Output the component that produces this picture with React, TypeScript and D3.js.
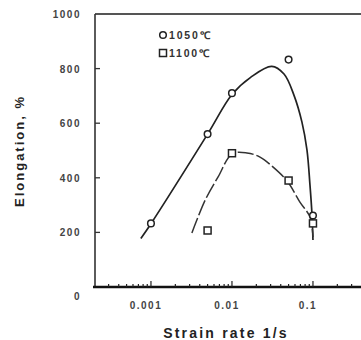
import React from 'react';
import * as d3 from 'd3';

const xTicks = [0.001, 0.01, 0.1];
const xTickLabels = ['0.001', '0.01', '0.1'];
const yTicks = [0, 200, 400, 600, 800, 1000];
const legendLabels = ['1050℃', '1100℃'];

const rate1050 = [0.001, 0.005, 0.01, 0.05, 0.1];
const elong1050 = [233, 560, 710, 833, 262];
const rate1100 = [0.005, 0.01, 0.05, 0.1];
const elong1100 = [207, 490, 390, 233];

const curve1050Rate = [0.00075, 0.001, 0.005, 0.01, 0.017, 0.031, 0.0439, 0.0582, 0.0731, 0.0843, 0.0918, 0.0973, 0.1];
const curve1050Elong = [178, 232, 560, 705, 768, 808, 780, 703, 604, 502, 374, 264, 172];
const curve1100Rate = [0.0032, 0.0047, 0.0068, 0.01, 0.0153, 0.0222, 0.032, 0.048, 0.069, 0.092, 0.1];
const curve1100Elong = [198, 320, 405, 487, 491, 476, 440, 388, 311, 256, 183];

const W = 361;
const H = 340;
const left = 95;
const top = 14;
const bottom = 287;

export default function App() {
  const x = d3.scaleLog().domain([Math.pow(10, -3.691), Math.pow(10, -0.407)]).range([left, W]);
  const y = d3.scaleLinear().domain([0, 1000]).range([bottom, top]);

  const line = d3
    .line<[number, number]>()
    .x((d) => x(d[0]))
    .y((d) => y(d[1]))
    .curve(d3.curveCatmullRom.alpha(0.5));

  const c1050 = curve1050Rate.map((r, i) => [r, curve1050Elong[i]] as [number, number]);
  const c1100 = curve1100Rate.map((r, i) => [r, curve1100Elong[i]] as [number, number]);

  const minor: number[] = [];
  for (let e = -4; e <= -1; e++) {
    for (let m = 1; m <= 9; m++) {
      const v = m * Math.pow(10, e);
      const px = x(v);
      if (px > left + 2 && px < W) minor.push(v);
    }
  }

  const font = 'Arial, "Liberation Sans", sans-serif';
  const sq = 7;

  return (
    <svg width={W} height={H} style={{ position: 'absolute', left: 0, top: 0, background: '#fff' }}>
      {/* frame */}
      <line x1={left} y1={top} x2={W} y2={top} stroke="#555" strokeWidth={2} />
      <line x1={left} y1={top} x2={left} y2={bottom} stroke="#333" strokeWidth={1.6} />
      <line x1={left - 2} y1={bottom} x2={W} y2={bottom} stroke="#111" strokeWidth={2.5} />

      {/* x ticks */}
      {minor.map((v, i) => {
        const isMajor = xTicks.some((t) => Math.abs(t - v) / t < 1e-6);
        return (
          <line key={'mt' + i} x1={x(v)} x2={x(v)} y1={bottom} y2={bottom - (isMajor ? 6 : 3)} stroke="#222" strokeWidth={1.2} />
        );
      })}
      {xTicks.map((v, i) => (
        <text key={'xl' + i} x={x(v) - 5} y={309} textAnchor="middle" fontFamily={font} fontSize={10} fontWeight="bold" fill="#444" letterSpacing={1.5}>
          {xTickLabels[i]}
        </text>
      ))}

      {/* y ticks */}
      {yTicks.map((v, i) => (
        <g key={'yt' + i}>
          {v > 0 && v < 1000 && <line x1={left} x2={left + 5} y1={y(v)} y2={y(v)} stroke="#333" strokeWidth={1.3} />}
          <text x={81} y={y(v) + 4 + (v === 0 ? 9 : 0)} textAnchor="end" fontFamily={font} fontSize={10} fontWeight="bold" fill="#444" letterSpacing={1.5}>
            {v}
          </text>
        </g>
      ))}

      {/* axis titles */}
      <text x={226} y={338} textAnchor="middle" fontFamily={font} fontSize={14} fontWeight="bold" fill="#222" letterSpacing={2.2}>
        Strain rate 1/s
      </text>
      <text transform="translate(24,151) rotate(-90)" textAnchor="middle" fontFamily={font} fontSize={13} fontWeight="bold" fill="#222" letterSpacing={2}>
        Elongation, %
      </text>

      {/* curves */}
      <path d={line(c1050) || ''} fill="none" stroke="#222" strokeWidth={1.7} />
      <path d={line(c1100) || ''} fill="none" stroke="#333" strokeWidth={1.5} strokeDasharray="16,3" />

      {/* markers */}
      {rate1050.map((r, i) => (
        <circle key={'c' + i} cx={x(r)} cy={y(elong1050[i])} r={3.3} fill="#fff" stroke="#222" strokeWidth={1.5} />
      ))}
      {rate1100.map((r, i) => (
        <rect key={'s' + i} x={x(r) - sq / 2} y={y(elong1100[i]) - sq / 2} width={sq} height={sq} fill="#fff" stroke="#222" strokeWidth={1.5} />
      ))}

      {/* legend */}
      <circle cx={163} cy={35} r={3.3} fill="#fff" stroke="#222" strokeWidth={1.5} />
      <text x={169} y={39} fontFamily={font} fontSize={10.5} fontWeight="bold" fill="#333" letterSpacing={1.8}>
        {legendLabels[0]}
      </text>
      <rect x={163 - sq / 2} y={53 - sq / 2} width={sq} height={sq} fill="#fff" stroke="#222" strokeWidth={1.5} />
      <text x={169} y={57} fontFamily={font} fontSize={10.5} fontWeight="bold" fill="#333" letterSpacing={1.8}>
        {legendLabels[1]}
      </text>
    </svg>
  );
}
